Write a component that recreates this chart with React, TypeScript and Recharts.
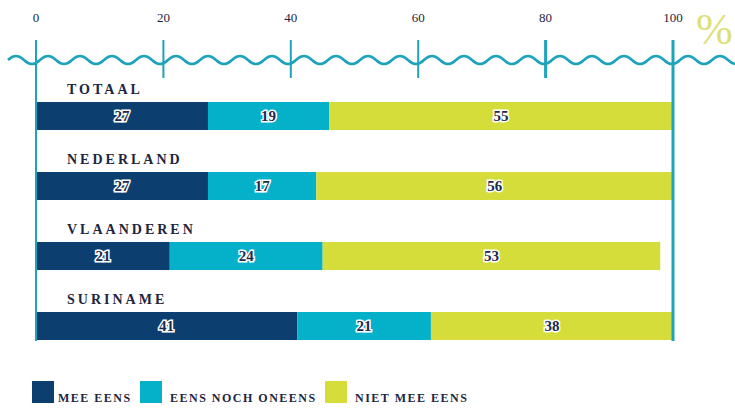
import { BarChart, Bar, XAxis, YAxis, LabelList, Customized } from "recharts";

const categories = ["TOTAAL", "NEDERLAND", "VLAANDEREN", "SURINAME"];
const meeEens = [27, 27, 21, 41];
const nochOneens = [19, 17, 24, 21];
const nietMeeEens = [55, 56, 53, 38];
const xTicks = [0, 20, 40, 60, 80, 100];

const series = [
  { key: "mee", name: "MEE EENS", color: "#0c3f6f" },
  { key: "noch", name: "EENS NOCH ONEENS", color: "#04b1c9" },
  { key: "niet", name: "NIET MEE EENS", color: "#d5dd3b" },
];

const data = categories.map((name, i) => ({
  name,
  mee: meeEens[i],
  noch: nochOneens[i],
  niet: nietMeeEens[i],
}));

const TEAL = "#1ea3b8";
const SERIF = "'Liberation Serif', 'DejaVu Serif', serif";

function TopTick(props: any) {
  const { x, payload } = props;
  const v = payload.value;
  const long = v === 0 || v === 100;
  return (
    <g>
      <text x={x} y={22} textAnchor="middle" fontFamily={SERIF} fontSize={13} fill="#1c2540">
        {v}
      </text>
      <line x1={x} x2={x} y1={40} y2={long ? 341 : 78} stroke={TEAL} strokeWidth={v >= 80 ? 3 : 2} />
    </g>
  );
}

function CatLabel(props: any) {
  const { x, y, value } = props;
  return (
    <text x={x + 31} y={y - 8} fontFamily={SERIF} fontSize={14} fontWeight="bold" letterSpacing={3} fill="#1c2540">
      {value}
    </text>
  );
}

function Wave() {
  let d = "M 8 60";
  for (let x = 8; x < 735; x += 32) {
    d += ` Q ${x + 8} 52 ${x + 16} 60 Q ${x + 24} 68 ${x + 32} 60`;
  }
  return (
    <g>
      <path d={d} fill="none" stroke={TEAL} strokeWidth={2.5} />
      <text x={696} y={44} fontFamily={SERIF} fontSize={44} fill="#dde07a">
        %
      </text>
    </g>
  );
}

function ValueLabel(props: any) {
  const { x, y, width, height, value } = props;
  return (
    <text
      x={x + width / 2}
      y={y + height / 2 + 5}
      textAnchor="middle"
      fontFamily={SERIF}
      fontSize={15}
      fontWeight="bold"
      fill="#1a2a50"
      stroke="#ffffff"
      strokeWidth={3}
      paintOrder="stroke"
    >
      {value}
    </text>
  );
}

function LegendBlock() {
  const lefts = [32, 140, 325];
  return (
    <div style={{ position: "absolute", left: 0, top: 381, width: 735, height: 30 }}>
      {series.map((s, i) => (
        <div key={s.key} style={{ position: "absolute", left: lefts[i], top: 0, display: "flex", alignItems: "flex-end" }}>
          <div style={{ width: 22, height: 22, background: s.color }} />
          <span
            style={{
              fontFamily: SERIF,
              fontSize: 12,
              fontWeight: "bold",
              letterSpacing: 1.5,
              color: "#1c2540",
              marginLeft: i === 0 ? 4 : 8,
              lineHeight: "12px",
              marginBottom: -1,
            }}
          >
            {s.name}
          </span>
        </div>
      ))}
    </div>
  );
}

export default function App() {
  return (
    <div style={{ position: "absolute", left: 0, top: 0, width: 735, height: 411, background: "#fff" }}>
      <BarChart
        width={735}
        height={411}
        data={data}
        layout="vertical"
        margin={{ top: 0, right: 62, bottom: 50, left: 36 }}
      >
        <Customized component={<Wave />} />
        <XAxis
          type="number"
          orientation="top"
          domain={[0, 100]}
          ticks={xTicks}
          allowDataOverflow
          height={81}
          axisLine={false}
          tickLine={false}
          tick={<TopTick />}
        />
        <YAxis type="category" dataKey="name" width={0} hide />
        {series.map((s, i) => (
          <Bar key={s.key} dataKey={s.key} name={s.name} stackId="a" fill={s.color} barSize={28} isAnimationActive={false}>
            <LabelList dataKey={s.key} content={<ValueLabel />} />
            {i === 0 && <LabelList dataKey="name" content={<CatLabel />} />}
          </Bar>
        ))}
      </BarChart>
      <LegendBlock />
    </div>
  );
}
